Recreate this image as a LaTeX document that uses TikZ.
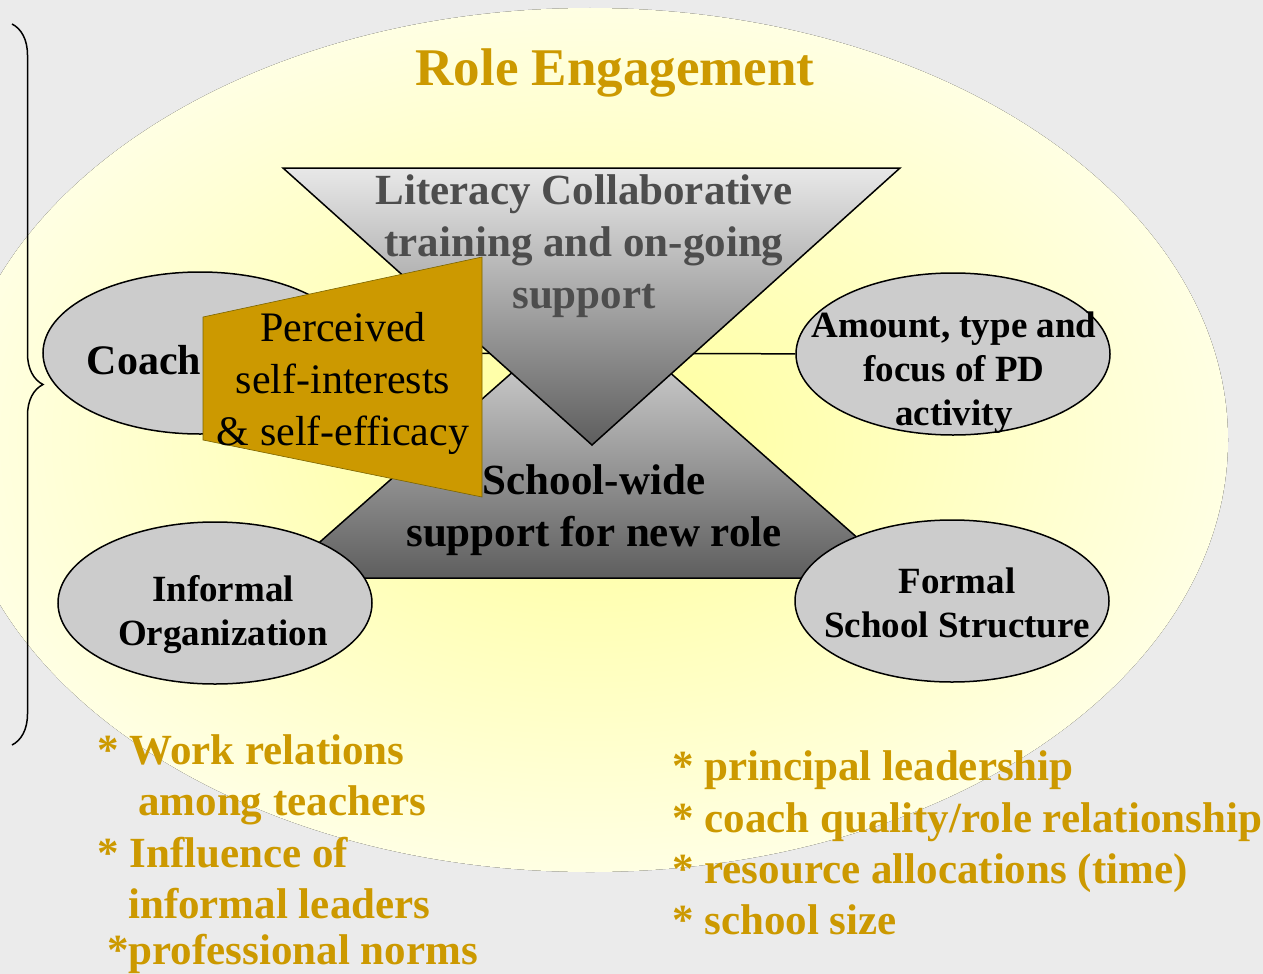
\documentclass[tikz,border=0pt]{standalone}
\usepackage{fontspec}
\setmainfont{Liberation Serif}
\usetikzlibrary{shapes.geometric,decorations.pathreplacing}

\definecolor{bggray}{HTML}{EBEBEB}
\definecolor{glowin}{HTML}{FFFF99}
\definecolor{glowout}{HTML}{FFFFE3}
\definecolor{ovalgray}{HTML}{CCCCCC}
\definecolor{gold}{HTML}{CC9900}
\definecolor{goldedge}{HTML}{7A6400}
\definecolor{labelgray}{HTML}{4D4D4D}
\definecolor{trilight}{HTML}{E8E8E8}
\definecolor{tridark}{HTML}{5E5E5E}

\tikzset{
  oval/.style={ellipse, draw=black, line width=1.5pt, fill=ovalgray,
    minimum width=314pt, minimum height=162pt, inner sep=0pt},
  ovaltext/.style={align=center, font=\fontsize{37}{44}\selectfont\bfseries},
  bigtext/.style={align=center, font=\fontsize{43}{52}\selectfont\bfseries},
  goldtext/.style={anchor=base west, inner sep=0pt, text=gold,
    font=\fontsize{43}{52}\selectfont\bfseries},
  tri/.style={draw=black, line width=1.5pt, top color=trilight, bottom color=tridark},
}

\begin{document}
\begin{tikzpicture}[x=1pt,y=-1pt]
  \useasboundingbox (0,0) rectangle (1263,974);
  \fill[bggray] (0,0) rectangle (1263,974);
  \fill[inner color=glowin, outer color=glowout] (590,440) ellipse (638pt and 432pt);

  % brace on the left
  \coordinate (bracetop) at (12,24);
  \coordinate (bracebot) at (12,745);
  \draw[line width=1.5pt, decorate, decoration={brace, amplitude=31pt}] (bracetop) -- (bracebot);

  \node[oval] (coach) at (200,353) {};
  \node[oval] (amount) at (953,354) {};
  \draw[line width=1.5pt] (coach) -- (amount);

  % the two triangles
  \coordinate (botleft) at (279,578);
  \coordinate (botright) at (903,578);
  \coordinate (botapex) at (591,303);
  \draw[tri] (botleft) -- (botapex) -- (botright) -- cycle;
  \coordinate (topleft) at (283,168);
  \coordinate (topright) at (900,168);
  \coordinate (topapex) at (592,445);
  \draw[tri] (topleft) -- (topright) -- (topapex) -- cycle;

  \node[oval] (informal) at (215,603) {};
  \node[oval] (formal) at (952,601) {};

  % self-interest panel
  \coordinate (P1) at (203,317);
  \coordinate (P2) at (482,257);
  \coordinate (P3) at (482,497);
  \coordinate (P4) at (203,440);
  \draw[fill=gold, draw=goldedge, line width=0.6pt] (P1) -- (P2) -- (P3) -- (P4) -- cycle;

  \node[text=gold, font=\fontsize{53}{60}\selectfont\bfseries] (title) at (615,73) {Role Engagement};
  \node[bigtext, text=labelgray] (lctext) at (584,246) {Literacy Collaborative\\training and on-going\\support};
  \node[bigtext] (swtext) at (594,510) {School-wide\\support for new role};
  \node[align=center, font=\fontsize{42}{52}\selectfont] (pstext) at (343,383) {Perceived\\self-interests\\\& self-efficacy};
  \node[font=\fontsize{42}{52}\selectfont\bfseries] (coachtext) at (144,360) {Coach};
  \node[ovaltext] (amounttext) at (954,373) {Amount, type and\\focus of PD\\activity};
  \node[ovaltext] (informaltext) at (223,615) {Informal\\Organization};
  \node[ovaltext] (formaltext) at (957,603) {Formal\\School Structure};

  % informal organization factors
  \node[goldtext] (w1) at (97,764) {* Work relations};
  \node[goldtext] (w2) at (138,815) {among teachers};
  \node[goldtext] (w3) at (97,867) {* Influence of};
  \node[goldtext] (w4) at (128,918) {informal leaders};
  \node[goldtext] (w5) at (107,964) {*professional norms};

  % formal structure factors
  \node[goldtext] (f1) at (672,780) {* principal leadership};
  \node[goldtext] (f2) at (672,832) {* coach quality/role relationship};
  \node[goldtext] (f3) at (672,883) {* resource allocations (time)};
  \node[goldtext] (f4) at (672,934) {* school size};
\end{tikzpicture}
\end{document}
